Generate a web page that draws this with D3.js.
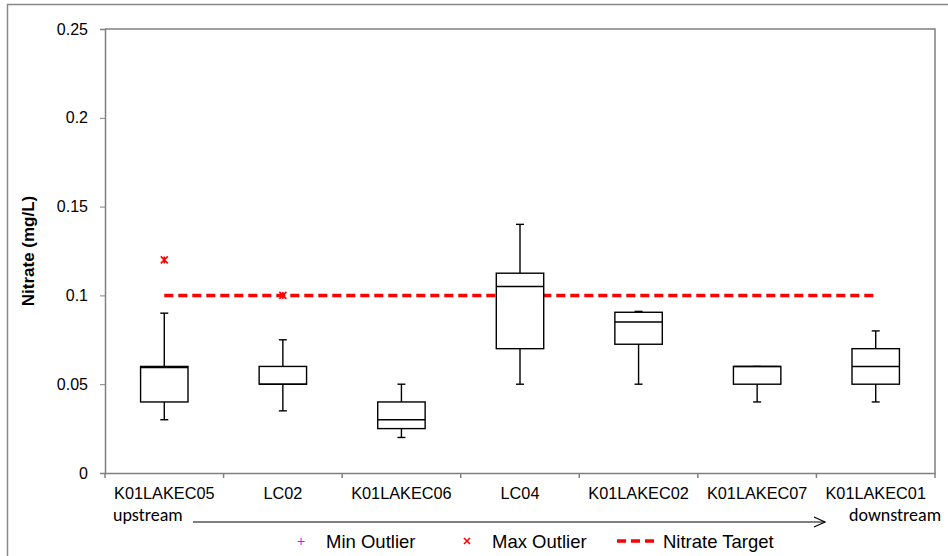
<!DOCTYPE html>
<html>
<head>
<meta charset="utf-8">
<script src="https://cdn.jsdelivr.net/npm/d3@7"></script>
<style>
  body { margin: 0; background: #fff; }
  .axis text { font-family: "Liberation Sans", Arial, sans-serif; font-size: 16px; fill: #000; }
  .xaxis text { font-size: 16.3px; }
  .axis path, .axis line { stroke: #808080; }
</style>
</head>
<body>
<div class="chart-wrapper"></div>
<script>
var width = 948, height = 556;
var margin = {top: 29, right: 13, bottom: 83, left: 105};

// data
var sites = ["K01LAKEC05", "LC02", "K01LAKEC06", "LC04", "K01LAKEC02", "K01LAKEC07", "K01LAKEC01"];
var whiskerLow  = [0.03, 0.035, 0.02, 0.05, 0.05, 0.04, 0.04];
var q1          = [0.04, 0.05, 0.025, 0.07, 0.0725, 0.05, 0.05];
var median      = [0.0595, 0.05, 0.03, 0.105, 0.085, 0.06, 0.06];
var q3          = [0.06, 0.06, 0.04, 0.1125, 0.0905, 0.06, 0.07];
var whiskerHigh = [0.09, 0.075, 0.05, 0.14, 0.091, 0.06, 0.08];
var maxOutliers = [{site: "K01LAKEC05", value: 0.12}, {site: "LC02", value: 0.1}];
var nitrateTarget = 0.1;
var yTicks = [0, 0.05, 0.1, 0.15, 0.2, 0.25];

var boxes = sites.map(function (s, i) {
  return {site: s, lo: whiskerLow[i], q1: q1[i], med: median[i], q3: q3[i], hi: whiskerHigh[i]};
});

var svg = d3.select(".chart-wrapper").append("svg")
  .attr("width", width)
  .attr("height", height);

// outer chart border (only top/left show in the picture)
svg.append("rect")
  .attr("x", 7.5).attr("y", 4.5)
  .attr("width", width).attr("height", height)
  .attr("fill", "none")
  .attr("stroke", "#888")
  .attr("stroke-width", 1.5);

var x = d3.scaleBand()
  .domain(sites)
  .range([margin.left, width - margin.right]);

var y = d3.scaleLinear()
  .domain([0, 0.25])
  .range([height - margin.bottom, margin.top]);

var bw = x.bandwidth() * 0.4;

// plot frame top + right
svg.append("path")
  .attr("d", "M" + margin.left + "," + y(0.25) + "H" + (width - margin.right) + "V" + y(0))
  .attr("fill", "none")
  .attr("stroke", "#808080")
  .attr("stroke-width", 1.5);

// y axis
svg.append("g")
  .attr("class", "axis")
  .attr("transform", "translate(" + margin.left + ",0)")
  .call(d3.axisLeft(y).tickValues(yTicks).tickSize(5).tickPadding(12)
    .tickFormat(function (d) { return String(+d.toFixed(2)); }))
  .call(function (g) { g.select(".domain").attr("stroke-width", 1.5); });

// x axis, ticks between categories
var xg = svg.append("g")
  .attr("class", "axis xaxis")
  .attr("transform", "translate(0," + y(0) + ")")
  .call(d3.axisBottom(x).tickSize(0).tickPadding(14));
xg.select(".domain").attr("stroke-width", 1.5);
xg.selectAll(".tickmark")
  .data(d3.range(sites.length + 1))
  .join("line")
  .attr("class", "tickmark")
  .attr("x1", function (i) { return margin.left + i * x.step(); })
  .attr("x2", function (i) { return margin.left + i * x.step(); })
  .attr("y1", 0).attr("y2", 5)
  .attr("stroke", "#808080")
  .attr("stroke-width", 1.5);

// y title
svg.append("text")
  .attr("transform", "translate(34," + (y(0.125)) + ") rotate(-90)")
  .attr("text-anchor", "middle")
  .style("font-family", "'Liberation Sans', Arial, sans-serif")
  .style("font-weight", "bold")
  .style("font-size", "17px")
  .text("Nitrate (mg/L)");

// nitrate target line
svg.append("line")
  .attr("x1", x(sites[0]) + x.bandwidth() / 2)
  .attr("x2", x(sites[sites.length - 1]) + x.bandwidth() / 2)
  .attr("y1", y(nitrateTarget)).attr("y2", y(nitrateTarget))
  .attr("stroke", "#ff0000")
  .attr("stroke-width", 3.5)
  .attr("stroke-dasharray", "9,5");

// boxes
var g = svg.selectAll(".box")
  .data(boxes)
  .join("g")
  .attr("class", "box")
  .attr("transform", function (d) { return "translate(" + (x(d.site) + x.bandwidth() / 2) + ",0)"; });

g.append("line")
  .attr("y1", function (d) { return y(d.hi); })
  .attr("y2", function (d) { return y(d.q3); })
  .attr("stroke", "#000").attr("stroke-width", 1.4);
g.append("line")
  .attr("y1", function (d) { return y(d.q1); })
  .attr("y2", function (d) { return y(d.lo); })
  .attr("stroke", "#000").attr("stroke-width", 1.4);
g.append("line")
  .attr("x1", -4).attr("x2", 4)
  .attr("y1", function (d) { return y(d.hi); })
  .attr("y2", function (d) { return y(d.hi); })
  .attr("stroke", "#000").attr("stroke-width", 1.4);
g.append("line")
  .attr("x1", -4).attr("x2", 4)
  .attr("y1", function (d) { return y(d.lo); })
  .attr("y2", function (d) { return y(d.lo); })
  .attr("stroke", "#000").attr("stroke-width", 1.4);
g.append("rect")
  .attr("x", -bw / 2)
  .attr("width", bw)
  .attr("y", function (d) { return y(d.q3); })
  .attr("height", function (d) { return y(d.q1) - y(d.q3); })
  .attr("fill", "#fff")
  .attr("stroke", "#000").attr("stroke-width", 1.4);
g.append("line")
  .attr("x1", -bw / 2).attr("x2", bw / 2)
  .attr("y1", function (d) { return y(d.med); })
  .attr("y2", function (d) { return y(d.med); })
  .attr("stroke", "#000").attr("stroke-width", 1.6);

// max outliers
function starPath(s) {
  return "M" + (-s) + "," + (-s) + "L" + s + "," + s + "M" + (-s) + "," + s + "L" + s + "," + (-s) +
    "M0," + (-s) + "V" + s;
}
svg.selectAll(".outlier")
  .data(maxOutliers)
  .join("path")
  .attr("class", "outlier")
  .attr("transform", function (d) { return "translate(" + (x(d.site) + x.bandwidth() / 2) + "," + y(d.value) + ")"; })
  .attr("d", starPath(3.5))
  .attr("stroke", "#ff0000")
  .attr("stroke-width", 1.6)
  .attr("fill", "none");

// upstream / downstream
var calib = "Carlito, Lato, 'Open Sans', sans-serif";
svg.append("text").attr("x", 113).attr("y", 521)
  .style("font-family", calib).style("font-size", "18px").text("upstream");
svg.append("text").attr("x", 849).attr("y", 521)
  .style("font-family", calib).style("font-size", "18px").text("downstream");
svg.append("line")
  .attr("x1", 193).attr("x2", 825)
  .attr("y1", 522).attr("y2", 522)
  .attr("stroke", "#000").attr("stroke-width", 1.2);
svg.append("path")
  .attr("d", "M814,517L825,522L814,527")
  .attr("fill", "none")
  .attr("stroke", "#000").attr("stroke-width", 1.2);

// legend
var lg = svg.append("g")
  .style("font-family", "'Liberation Sans', Arial, sans-serif")
  .style("font-size", "18.5px");
lg.append("text").attr("x", 301).attr("y", 546).attr("text-anchor", "middle")
  .attr("fill", "#ff00ff").style("font-size", "14px").text("+");
lg.append("text").attr("x", 326).attr("y", 548).text("Min Outlier");
lg.append("path")
  .attr("transform", "translate(467,541)")
  .attr("d", "M-3,-3L3,3M-3,3L3,-3")
  .attr("stroke", "#ff0000").attr("stroke-width", 1.6);
lg.append("text").attr("x", 492).attr("y", 548).text("Max Outlier");
lg.append("line")
  .attr("x1", 617).attr("x2", 656)
  .attr("y1", 541).attr("y2", 541)
  .attr("stroke", "#ff0000").attr("stroke-width", 3.5)
  .attr("stroke-dasharray", "9,5");
lg.append("text").attr("x", 663).attr("y", 548).text("Nitrate Target");
</script>
</body>
</html>
